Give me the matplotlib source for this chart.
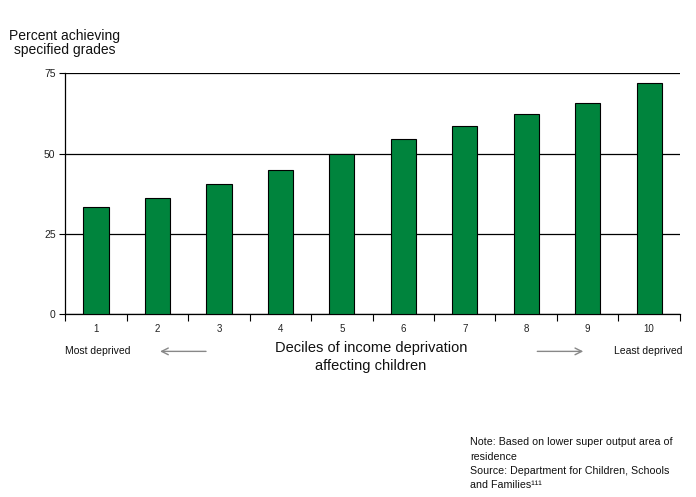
import matplotlib
matplotlib.use("Agg")
import matplotlib.pyplot as plt

plt.rcParams["font.family"] = ["Liberation Sans", "DejaVu Sans"]

# Values
deciles = ["1", "2", "3", "4", "5", "6", "7", "8", "9", "10"]
percent = [33.3, 36.1, 40.5, 44.8, 50.0, 54.4, 58.7, 62.2, 65.9, 72.1]
y_ticks = [0, 25, 50, 75]

bar_green = "#00843d"

fig = plt.figure(figsize=(6.96, 4.97), dpi=100)
ax = fig.add_axes([0.0938, 0.368, 0.883, 0.4845])

x = list(range(len(deciles)))
ax.bar(x, percent, width=0.41, color=bar_green, edgecolor="black", linewidth=0.8, zorder=3)

ax.set_xlim(-0.5, len(deciles) - 0.5)
ax.set_ylim(0, 75)
ax.set_yticks(y_ticks)
ax.yaxis.grid(True, color="black", linewidth=0.9, zorder=0)
ax.set_axisbelow(True)

# category boundaries carry the tick marks, labels sit in the middle
ax.set_xticks([i - 0.5 for i in range(len(deciles) + 1)])
ax.set_xticklabels([])
ax.set_xticks(x, minor=True)
ax.set_xticklabels(deciles, minor=True)
ax.tick_params(axis="x", which="major", direction="out", length=5, width=0.8, color="black")
ax.tick_params(axis="x", which="minor", length=0, pad=7, labelsize=7, labelcolor="#222222")
ax.tick_params(axis="y", direction="out", length=4, width=0.8, labelsize=7.5, labelcolor="#222222", pad=3)

for side in ["top", "right"]:
    ax.spines[side].set_visible(False)
for side in ["left", "bottom"]:
    ax.spines[side].set_linewidth(0.9)
    ax.spines[side].set_color("black")

fig.text(0.093, 0.942, "Percent achieving\nspecified grades", ha="center", va="top",
         fontsize=10, linespacing=1.0, color="#111111")

fig.text(0.533, 0.313, "Deciles of income deprivation\naffecting children", ha="center", va="top",
         fontsize=10.5, linespacing=1.3, color="#111111")
fig.text(0.094, 0.293, "Most deprived", ha="left", va="center", fontsize=7.5, color="#111111")
fig.text(0.98, 0.293, "Least deprived", ha="right", va="center", fontsize=7.5, color="#111111")

arrow_style = dict(arrowstyle="->", color="#888888", lw=1.0, mutation_scale=12)
fig.patches.append(matplotlib.patches.FancyArrowPatch(
    (0.300, 0.293), (0.226, 0.293), transform=fig.transFigure, **arrow_style))
fig.patches.append(matplotlib.patches.FancyArrowPatch(
    (0.768, 0.293), (0.842, 0.293), transform=fig.transFigure, **arrow_style))

fig.text(0.676, 0.12,
         "Note: Based on lower super output area of\nresidence\n"
         "Source: Department for Children, Schools\nand Families\u00b9\u00b9\u00b9",
         ha="left", va="top", fontsize=7.7, linespacing=1.52, color="#111111")

fig.savefig("out.png", dpi=100)
